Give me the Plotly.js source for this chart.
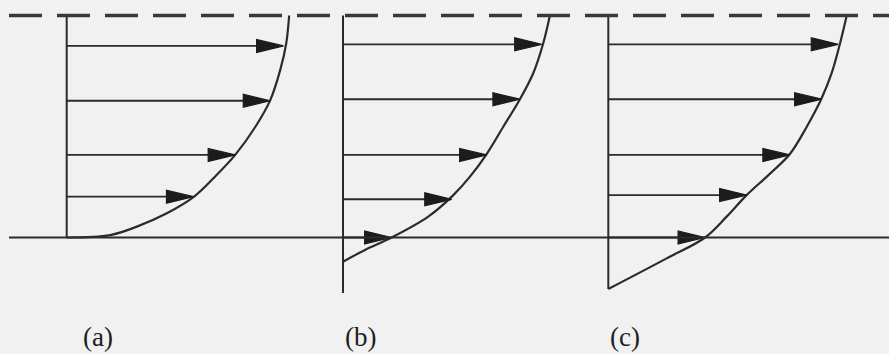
<!DOCTYPE html>
<html>
<head>
<meta charset="utf-8">
<script src="https://cdn.plot.ly/plotly-3.0.1.min.js"></script>
<style>html,body{margin:0;padding:0;background:#f1f1f1;}#chart{width:889px;height:354px;}</style>
</head>
<body>
<div id="chart"></div>
<script>
// ---- data (velocity u, height z above bed; free surface at z = 10) ----
const panelLabels = ['(a)', '(b)', '(c)'];
const surfaceZ = 10;
const bedZ = 0;

const arrowZ_a = [8.63, 6.16, 3.72, 1.84];
const arrowU_a = [9.77, 9.17, 7.59, 5.71];
const profileU_a = [0, 1.96, 3.16, 4.51, 5.74, 6.68, 7.59, 8.50, 9.17, 9.62, 9.89, 10.02];
const profileZ_a = [0, 0.11, 0.49, 1.09, 1.84, 2.74, 3.72, 4.99, 6.19, 7.55, 8.75, 10];
const axisBottom_a = 0;

const arrowZ_b = [8.70, 6.23, 3.72, 1.72, 0];
const arrowU_b = [8.95, 7.97, 6.47, 4.90, 2.19];
const profileU_b = [0, 0.99, 2.19, 3.84, 4.97, 5.72, 6.47, 7.22, 7.97, 8.57, 9.02, 9.32];
const profileZ_b = [-1.09, -0.56, 0, 0.94, 1.91, 2.74, 3.76, 4.99, 6.23, 7.40, 8.75, 10];
const axisBottom_b = -2.50;

const arrowZ_c = [8.70, 6.23, 3.72, 1.91, 0];
const arrowU_c = [10.36, 9.61, 8.18, 6.23, 4.36];
const profileU_c = [0, 2.63, 4.36, 5.33, 6.23, 7.30, 8.18, 8.94, 9.61, 10.06, 10.44, 10.74];
const profileZ_c = [-2.32, -0.94, 0, 0.94, 1.91, 2.89, 3.76, 4.99, 6.27, 7.40, 8.75, 10];
const axisBottom_c = -2.32;

// ---- layout constants ----
const W = 889, H = 354;
const PX = 22.2;            // pixels per unit
const bedPx = 237.5;        // bed line position (px from top)
const originPx = [66.7, 343, 608.3];
const INK = '#2b2b2b';
const headL = 27 / PX, headH = 6.5 / PX;

const panels = [
  {U: arrowU_a, Z: arrowZ_a, pu: profileU_a, pz: profileZ_a, bot: axisBottom_a},
  {U: arrowU_b, Z: arrowZ_b, pu: profileU_b, pz: profileZ_b, bot: axisBottom_b},
  {U: arrowU_c, Z: arrowZ_c, pu: profileU_c, pz: profileZ_c, bot: axisBottom_c}
];
const xaxNames = ['x', 'x2', 'x3'];

const traces = [];
panels.forEach((p, i) => {
  const xa = xaxNames[i];
  traces.push({x: [0, 0], y: [surfaceZ, p.bot], xaxis: xa, yaxis: 'y', mode: 'lines',
    line: {color: INK, width: 2}, hoverinfo: 'skip'});
  traces.push({x: p.pu, y: p.pz, xaxis: xa, yaxis: 'y', mode: 'lines',
    line: {color: INK, width: 2.2, shape: 'spline', smoothing: 1}, hoverinfo: 'skip'});
  const sx = [], sy = [];
  p.U.forEach((u, k) => { sx.push(0, u - headL * 0.5, null); sy.push(p.Z[k], p.Z[k], null); });
  traces.push({x: sx, y: sy, xaxis: xa, yaxis: 'y', mode: 'lines',
    line: {color: INK, width: 1.9}, hoverinfo: 'skip'});
  const hx = [], hy = [];
  p.U.forEach((u, k) => {
    const z = p.Z[k];
    hx.push(u, u - headL, u - headL, u, null);
    hy.push(z, z + headH, z - headH, z, null);
  });
  traces.push({x: hx, y: hy, xaxis: xa, yaxis: 'y', mode: 'lines', fill: 'toself',
    fillcolor: '#1c1c1c', line: {color: '#1c1c1c', width: 1.2}, hoverinfo: 'skip'});
});

const yRange = [(bedPx - H) / PX, bedPx / PX];
const hidden = {showgrid: false, zeroline: false, showticklabels: false, ticks: '', showline: false, fixedrange: true};
const layout = {
  width: W, height: H,
  margin: {l: 0, r: 0, t: 0, b: 0, pad: 0},
  paper_bgcolor: '#f1f1f1', plot_bgcolor: '#f1f1f1',
  showlegend: false,
  yaxis: Object.assign({range: yRange}, hidden),
  shapes: [
    {type: 'line', xref: 'paper', yref: 'y', x0: 9 / W, x1: 1, y0: bedZ, y1: bedZ,
     line: {color: INK, width: 2}},
    {type: 'line', xref: 'paper', yref: 'y', x0: 9 / W, x1: 1, y0: surfaceZ, y1: surfaceZ,
     line: {color: '#383838', width: 3.5, dash: '33px,15px'}}
  ],
  annotations: panelLabels.map((t, i) => ({
    text: t, xref: 'paper', yref: 'paper',
    x: [97.5, 360, 625][i] / W, y: 1 - 337 / H,
    xanchor: 'center', yanchor: 'middle', showarrow: false,
    font: {family: 'Liberation Serif, Times New Roman, serif', size: 27, color: '#1e1e1e'}
  }))
};
originPx.forEach((o, i) => {
  const key = i === 0 ? 'xaxis' : 'xaxis' + (i + 1);
  const ax = Object.assign({range: [-o / PX, (W - o) / PX], domain: [0, 1], anchor: 'y'}, hidden);
  if (i > 0) ax.overlaying = 'x';
  layout[key] = ax;
});

Plotly.newPlot('chart', traces, layout, {staticPlot: true, displayModeBar: false});
</script>
</body>
</html>
